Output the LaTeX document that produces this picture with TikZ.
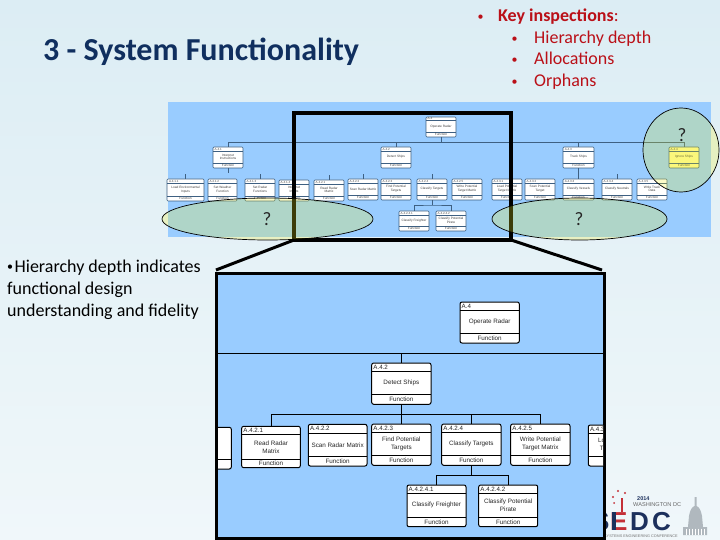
\documentclass[tikz,border=0pt]{standalone}
\usepackage{fontspec}
\setmainfont{Carlito}
\newfontfamily\boxfont{Liberation Sans}
\newfontfamily\logofont{Liberation Sans}
\definecolor{panelblue}{RGB}{153,204,255}
\definecolor{navytitle}{RGB}{16,47,95}
\definecolor{keyred}{RGB}{186,16,24}
\definecolor{smallline}{RGB}{62,96,130}
\definecolor{oval}{RGB}{241,240,36}
\definecolor{logonavy}{RGB}{28,48,92}
\definecolor{logored}{RGB}{196,48,56}
\definecolor{domegrey}{RGB}{176,184,190}
\newcommand{\fs}[2]{\fontsize{#1}{#2}\selectfont}
\newcommand{\fnbox}[9]{%
  \node[fnshape,minimum width={(#4-#2)*1pt},minimum height={(#5-#3)*1pt}] (#1) at ({(#2+#4)/2},{(#3+#5)/2}) {};
  \draw[fnsep] (#2,#6) -- (#4,#6);
  \draw[fnsep] (#2,#7) -- (#4,#7);
  \node[fnid,anchor=west] (#1-id) at ({#2+0.05*(#4-#2)},{(#3+#6)/2}) {#8};
  \node[fntext] (#1-t) at ({(#2+#4)/2},{(#6+#7)/2}) {#9};
  \node[fntext] (#1-f) at ({(#2+#4)/2},{(#7+#5)/2}) {Function};
}
\tikzset{
  fnshape/.style={draw=smallline,line width=0.6pt,fill=white,rounded corners=1pt,inner sep=0pt,outer sep=0pt},
  fnsep/.style={draw=smallline,line width=0.5pt},
  fnid/.style={font=\boxfont\fs{3}{3.4},text=black!70,inner sep=0pt},
  fntext/.style={font=\boxfont\fs{3.2}{3.7},text=black!75,align=center,inner sep=0pt},
  fnline/.style={draw=smallline,line width=0.7pt},
  bigbox/.style={fnshape,draw=black,line width=1pt,rounded corners=2pt},
  bigsep/.style={draw=black,line width=1pt},
  bigid/.style={font=\boxfont\fs{6.2}{7},text=black!85,inner sep=0pt},
  bigtext/.style={font=\boxfont\fs{6.3}{8},text=black!85,align=center,inner sep=0pt},
  bigline/.style={draw=black,line width=1pt},
  ovalshape/.style={draw=black,line width=0.7pt,fill=oval,fill opacity=0.25,ellipse,inner sep=0pt,outer sep=0pt},
  mark q/.style={font=\fs{19}{22},text=black!85},
  slide text/.style={inner sep=0pt,anchor=base west},
  bullet red/.style={slide text,text=keyred,font=\fs{12}{14}},
  red line/.style={slide text,text=keyred,font=\fs{18}{21}},
  left line/.style={slide text,text=black,font=\fs{18}{21}},
  logo letter/.style={inner sep=0pt,anchor=base west,font=\logofont\bfseries\fs{26}{28}},
  logo star/.style={fill=logored},
}
\newcommand{\bigfn}[9]{%
  \node[bigbox,minimum width={(#4-#2)*1pt},minimum height={(#5-#3)*1pt}] (#1) at ({(#2+#4)/2},{(#3+#5)/2}) {};
  \draw[bigsep] (#2,#6) -- (#4,#6);
  \draw[bigsep] (#2,#7) -- (#4,#7);
  \node[bigid,anchor=west] (#1-id) at ({#2+1.5},{(#3+#6)/2}) {#8};
  \node[bigtext] (#1-t) at ({(#2+#4)/2},{(#6+#7)/2}) {#9};
  \node[bigtext] (#1-f) at ({(#2+#4)/2},{(#7+#5)/2}) {Function};
}
\usetikzlibrary{shapes.geometric}
\begin{document}
\begin{tikzpicture}[x=1pt,y=-1pt]
\useasboundingbox (0,0) rectangle (720,540);
\shade[top color={rgb,255:red,220;green,237;blue,244},bottom color={rgb,255:red,240;green,247;blue,250}] (0,0) rectangle (720,540);

% slide text
\node[slide text,font=\bfseries\fs{32}{36},text=navytitle] (title) at (43,61) {3 - System Functionality};
\node[bullet red] (kb) at (477.5,20.5) {•};
\node[red line] (k0) at (498,22) {\textbf{Key inspections}:};
\node[bullet red] (b1) at (511.5,42.5) {•};
\node[red line] (k1) at (534,44) {Hierarchy depth};
\node[bullet red] (b2) at (511.5,63.5) {•};
\node[red line] (k2) at (534,65) {Allocations};
\node[bullet red] (b3) at (511.5,85.5) {•};
\node[red line] (k3) at (534,87) {Orphans};
\node[left line] (l1) at (7,272) {\raisebox{1.5pt}{\fs{12}{14}•}\kern1.5pt Hierarchy depth indicates};
\node[left line] (l2) at (7,294) {functional design};
\node[left line] (l3) at (7,316) {understanding and fidelity};

% small diagram panel
\node[fill=panelblue,minimum width=543pt,minimum height=135pt,inner sep=0pt,outer sep=0pt] (panel) at (439.5,169.5) {};
\coordinate (hl) at (228,142);
\coordinate (hr) at (685,142);
\draw[fnline] (hl) -- (hr);

\fnbox{s0}{426}{117}{456}{137}{120.5}{132.5}{A.4}{Operate Radar}
\fnbox{sa}{213}{147}{243}{168}{151}{163}{A.4.1}{Interpret\\Instructions}
\fnbox{sb}{381}{147}{411}{168}{151}{163}{A.4.2}{Detect Ships}
\fnbox{sc}{563}{147}{594}{168}{151}{163}{A.4.3}{Track Ships}
\tikzset{fnshape/.append style={fill=yellow!40}}
\fnbox{sd}{669}{147}{699}{168}{151}{163}{A.4.4}{Ignore Ships}
\tikzset{fnshape/.append style={fill=white}}
\fnbox{t1}{167}{179}{204}{201}{183}{196}{A.4.1.1}{Load Environmental\\Inputs}
\fnbox{t2}{208}{179}{237}{201}{183}{196}{A.4.1.2}{Set Weather\\Function}
\fnbox{t3}{245}{179}{275}{201}{183}{196}{A.4.1.3}{Set Radar\\Functions}
\fnbox{t4}{279}{180}{309}{201}{184}{196}{A.4.1.4}{Interpret\\Inputs}
\fnbox{t5}{314}{180}{344}{201}{184}{196}{A.4.2.1}{Read Radar\\Matrix}
\fnbox{t6}{348}{179}{378}{200}{183}{195}{A.4.2.2}{Scan Radar Matrix}
\fnbox{t7}{381}{179}{411}{200}{183}{195}{A.4.2.3}{Find Potential\\Targets}
\fnbox{t8}{417}{179}{447}{200}{183}{195}{A.4.2.4}{Classify Targets}
\fnbox{t9}{452}{179}{482}{200}{183}{195}{A.4.2.5}{Write Potential\\Target Matrix}
\fnbox{t10}{492}{179}{522}{200}{183}{195}{A.4.3.1}{Load Potential\\Target Matrix}
\fnbox{t11}{525}{179}{555}{200}{183}{195}{A.4.3.2}{Scan Potential\\Target}
\fnbox{t12}{563}{179}{594}{200}{183}{195}{A.4.3.3}{Classify Vessels}
\fnbox{t13}{602}{179}{632}{200}{183}{195}{A.4.3.4}{Classify Neutrals}
\fnbox{t14}{637}{179}{667}{200}{183}{195}{A.4.3.5}{Write Track\\Data}
\fnbox{u1}{399}{211}{429}{231}{215}{226}{A.4.2.4.1}{Classify Freighter}
\fnbox{u2}{436}{211}{466}{231}{215}{226}{A.4.2.4.2}{Classify Potential\\Pirate}

% small connectors
\draw[fnline] (s0.south) -- (s0.south |- hl);
\draw[fnline] (sa.north) -- (sa.north |- hl);
\draw[fnline] (sb.north) -- (sb.north |- hl);
\draw[fnline] (sc.north) -- (sc.north |- hl);
\draw[fnline] (sd.north) -- (sd.north |- hl);
\draw[fnline] (sc.south) -- (t12.north);
\draw[fnline] (sa.south) -- ++(0,5);
\foreach \n in {t1,t3,t5,t6,t8,t13} \draw[fnline] (\n.north) -- ++(0,-5);
\draw[fnline] (t8.south) -- ++(0,5) coordinate (uj);
\draw[fnline] (u1.north) |- (uj) -| (u2.north);

% small frame
\node[draw=black,line width=4pt,minimum width=217pt,minimum height=127pt,inner sep=0pt,outer sep=0pt] (frame) at (402.5,176.5) {};

% ovals
\node[ovalshape,minimum width=211pt,minimum height=42pt] (ov1) at (267.5,219) {};
\node[ovalshape,minimum width=175pt,minimum height=42pt] (ov2) at (579.5,219) {};
\node[ovalshape,minimum width=76pt,minimum height=84pt] (ov3) at (681,150) {};
\node[mark q] (q1) at (267,219) {?};
\node[mark q] (q2) at (579,219) {?};
\node[mark q] (q3) at (682,135) {?};

% logo
\node[logo letter,text=logonavy] (logoS) at (592,530) {S};
\node[logo letter,text=logored] (logoE) at (610,530) {E};
\fill[logonavy] (612,511.5) rectangle (615.5,530);
\fill[logored] (620.5,498) rectangle (623,511.5);
\node[logo letter,text=logonavy] (logoD) at (630,530) {D};
\node[logo letter,text=logonavy] (logoC) at (652,530) {C};
\fill[logo star] (613,497) circle (1.2pt);
\fill[logo star] (618,491) circle (1.2pt);
\fill[logo star] (625,493) circle (1.2pt);
\fill[logo star] (614,503) circle (1pt);
\node[inner sep=0pt,anchor=base west,font=\logofont\bfseries\fs{5.5}{6},text=logonavy] (logoy) at (637,500) {2014};
\node[inner sep=0pt,anchor=base west,font=\logofont\fs{5.6}{6},text=black!60] (logow) at (633,506.5) {WASHINGTON DC};
\node[inner sep=0pt,anchor=base west,font=\logofont\fs{3.8}{4},text=black!55] (logos) at (604,537) {SYSTEMS ENGINEERING CONFERENCE};
\fill[domegrey] (683,535) -- (683,527) -- (688,527) -- (689,516) .. controls (690,510) and (692,507) .. (694.5,506) -- (694.5,497) -- (696.5,497) -- (696.5,506) .. controls (699,507) and (701,510) .. (702,516) -- (703,527) -- (707,527) -- (707,535) -- cycle;
\foreach \cx in {686,689,692,695,698,701,704} \draw[white,line width=0.5pt] (\cx,528.5) -- (\cx,535);

% big frame
\node[draw=black,line width=3pt,fill=panelblue,minimum width=388pt,minimum height=265pt,inner sep=0pt,outer sep=0pt] (big) at (410.5,405.5) {};
\coordinate (zl) at (216,270);
\coordinate (zr) at (602,270);
\draw[line width=3pt] (frame.south west) -- (zl);
\draw[line width=3pt] (frame.south east) -- (zr);

\begin{scope}
\clip (218,275) rectangle (603,536.5);
\coordinate (bl) at (218,353.3);
\coordinate (br) at (603,353.3);
\draw[bigline] (bl) -- (br);
\bigfn{b0}{460}{302}{519.3}{343}{310}{333}{A.4}{Operate Radar}
\bigfn{b2}{371.7}{363}{431}{404.3}{371.3}{394.3}{A.4.2}{Detect Ships}
\draw[bigline] (b2.north) -- (b2.north |- bl);
\node[bigbox,minimum width=60pt,minimum height=41.7pt] (c0) at (201.3,448.15) {};
\draw[bigsep] (c0.east |- 0,459.3) -- (200,459.3);
\bigfn{c1}{241.7}{426.3}{300.3}{467.7}{434.3}{459.3}{A.4.2.1}{Read Radar\\Matrix}
\bigfn{c2}{308.3}{424.3}{367}{466}{433}{456.7}{A.4.2.2}{Scan Radar Matrix}
\bigfn{c3}{371.7}{424}{431}{465.3}{432.3}{455.3}{A.4.2.3}{Find Potential\\Targets}
\bigfn{c4}{441.7}{424}{501}{465.3}{432.3}{455.3}{A.4.2.4}{Classify Targets}
\bigfn{c5}{510.7}{424}{570}{465.3}{432.3}{455.3}{A.4.2.5}{Write Potential\\Target Matrix}
\bigfn{c6}{588.3}{425}{648}{466}{433.3}{456}{A.4.3.1}{Load Potential\\Target Matrix}
\bigfn{d1}{407}{485}{466}{526.7}{493.3}{517.3}{A.4.2.4.1}{Classify Freighter}
\bigfn{d2}{478.7}{485}{537.7}{526.7}{493.3}{517.3}{A.4.2.4.2}{Classify Potential\\Pirate}
\draw[bigline] (b2.south) -- ++(0,10) coordinate (bj);
\draw[bigline] (c1.north) |- (bj) -| (c5.north);
\draw[bigline] (c3.north) -- (c3.north |- bj);
\draw[bigline] (c4.north) -- (c4.north |- bj);
\draw[bigline] (c4.south) -- ++(0,10.4) coordinate (cj);
\draw[bigline] (d1.north) |- (cj) -| (d2.north);
\end{scope}
\end{tikzpicture}
\end{document}
